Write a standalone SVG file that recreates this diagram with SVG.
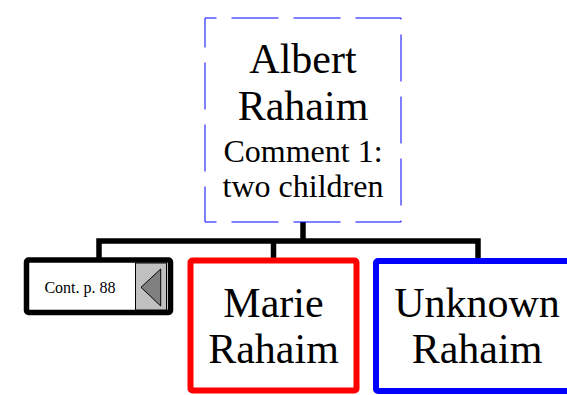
<svg xmlns="http://www.w3.org/2000/svg" width="567" height="395" viewBox="0 0 567 395">
<style>
text { font-family: "Liberation Serif", "Times New Roman", serif; fill: #000; text-anchor: middle; }
.name { font-size: 42px; }
.comment { font-size: 32px; }
.small { font-size: 16px; }
.conn { fill: none; stroke: #000; stroke-width: 5.5; stroke-linejoin: miter; stroke-linecap: butt; }
.box { fill: #fff; stroke-width: 6; }
</style>
<rect width="567" height="395" fill="#fff"/>
<g id="connectors">
<path class="conn" d="M303,222 V241"/>
<path class="conn" d="M99,260 V241 H478 V261"/>
<path class="conn" d="M273.5,241 V260"/>
</g>
<g id="albert">
<rect x="205" y="18" width="196" height="204" fill="#fff" stroke="#0000ff" stroke-width="1" stroke-dasharray="47 15" stroke-dashoffset="35.5"/>
<text class="name" x="303" y="73.3">Albert</text>
<text class="name" x="303" y="120">Rahaim</text>
<text class="comment" x="303" y="161.7">Comment 1:</text>
<text class="comment" x="303" y="196.7">two children</text>
</g>
<g id="cont">
<rect x="26.5" y="260" width="144" height="52.5" rx="2" fill="#fff" stroke="#000" stroke-width="5.5"/>
<rect x="135.5" y="263" width="31" height="47" fill="#c0c0c0" stroke="#000" stroke-width="1"/>
<polygon points="141,287.3 160.7,269 160.7,306" fill="#808080" stroke="#000" stroke-width="1"/>
<text class="small" x="80" y="293.3">Cont. p. 88</text>
</g>
<g id="marie">
<rect class="box" x="190.5" y="260.5" width="166" height="130" rx="2" stroke="#ff0000"/>
<text class="name" x="273.5" y="316.7">Marie</text>
<text class="name" x="273.5" y="363.3">Rahaim</text>
</g>
<g id="unknown">
<rect class="box" x="376" y="261" width="202" height="130" rx="2" stroke="#0000ff"/>
<text class="name" x="477" y="316.7">Unknown</text>
<text class="name" x="477" y="363.3">Rahaim</text>
</g>
</svg>
